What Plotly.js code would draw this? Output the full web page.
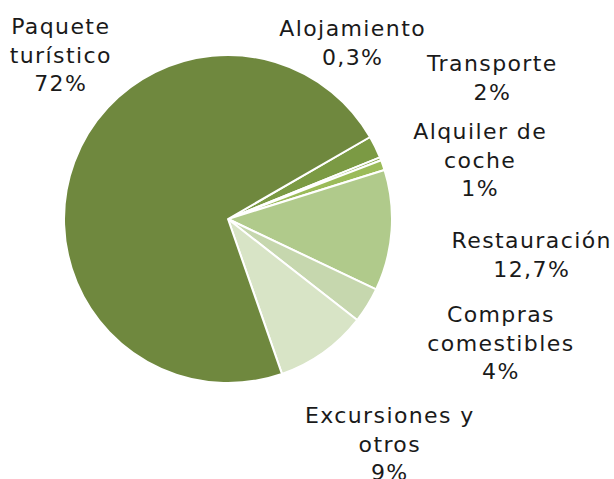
<!DOCTYPE html>
<html>
<head>
<meta charset="utf-8">
<script src="https://cdn.plot.ly/plotly-3.0.1.min.js"></script>
<style>
  html, body { margin: 0; padding: 0; background: #ffffff; }
  #chart { width: 614px; height: 479px; }
  #chart .annotation-text { letter-spacing: 1.4px; }
</style>
</head>
<body>
<div id="chart"></div>
<script>
// ---- data (clockwise from the Paquete/Transporte boundary) ----
const categories = ["Transporte", "Alojamiento", "Alquiler de coche", "Restauración",
                    "Compras comestibles", "Excursiones y otros", "Paquete turístico"];
const shares = [2.2, 0.3, 1.0, 11.9, 3.5, 9.1, 72.0];
const pctLabels = ["2%", "0,3%", "1%", "12,7%", "4%", "9%", "72%"];
const labelLines = [
  ["Transporte"],
  ["Alojamiento"],
  ["Alquiler de", "coche"],
  ["Restauración"],
  ["Compras", "comestibles"],
  ["Excursiones y", "otros"],
  ["Paquete", "turístico"]
];

// ---- styling ----
const sliceColors = ["#7b9a44", "#86a64c", "#9bbb59", "#b0ca8b", "#c6d7ae", "#d8e4c6", "#6f883e"];
const W = 614, H = 479;
// label block centres in pixels (layout only)
const labelPx = [
  [492, 78], [352, 43], [480, 160], [531, 255], [501, 343], [390, 444], [60, 55]
];

const cx = 228, cy = 219, r = 164;

const trace = {
  type: "pie",
  labels: categories,
  values: shares,
  sort: false,
  direction: "clockwise",
  rotation: 60,
  textinfo: "none",
  hoverinfo: "label+percent",
  marker: { colors: sliceColors, line: { color: "#ffffff", width: 2 } },
  domain: { x: [(cx - r) / W, (cx + r) / W], y: [1 - (cy + r) / H, 1 - (cy - r) / H] },
  showlegend: false
};

const annotations = categories.map((c, i) => ({
  xref: "paper", yref: "paper",
  x: labelPx[i][0] / W, y: 1 - labelPx[i][1] / H,
  xanchor: "center", yanchor: "middle",
  text: labelLines[i].concat([pctLabels[i]]).join("<br>"),
  showarrow: false,
  align: "center",
  font: { family: "DejaVu Sans", size: 22, color: "#1a1a1a" }
}));

const layout = {
  width: W, height: H,
  margin: { l: 0, r: 0, t: 0, b: 0 },
  paper_bgcolor: "#ffffff",
  plot_bgcolor: "#ffffff",
  annotations: annotations
};

Plotly.newPlot("chart", [trace], layout, { displayModeBar: false, staticPlot: true });
</script>
</body>
</html>
